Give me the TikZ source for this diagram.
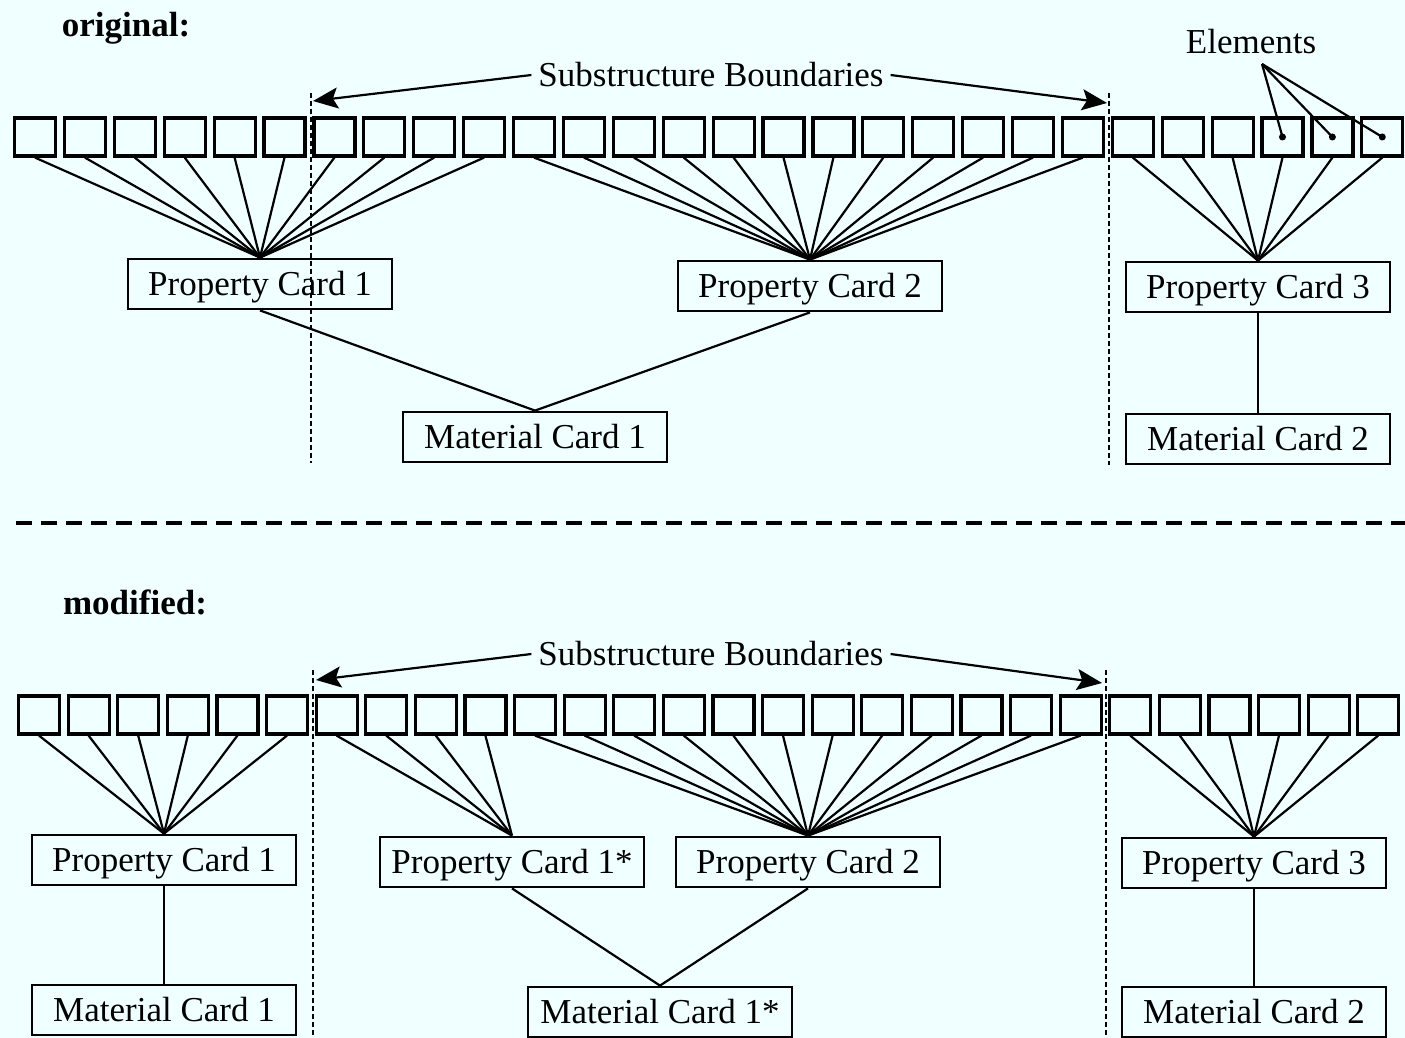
\documentclass[tikz,border=0pt]{standalone}
\usepackage{fontspec}
\setmainfont{Liberation Serif}
\usetikzlibrary{arrows.meta}
\definecolor{bgcol}{HTML}{F0FFFF}
\tikzset{
  elem/.style={draw, line width=1.6pt, minimum width=20.5pt, minimum height=19pt, inner sep=0pt},
  card/.style={draw, line width=1.4pt, minimum width=132pt, minimum height=25pt, inner sep=0pt,
    text height=11.6pt, text depth=0pt, font=\fontsize{17.5}{20}\selectfont},
  txt/.style={font=\fontsize{17.5}{20}\selectfont},
  link/.style={line width=1.1pt},
  bound/.style={line width=0.9pt, dash pattern=on 2.5pt off 1.5pt},
  pointer/.style={line width=1.1pt, -{Stealth[length=12.5pt,width=10.5pt,inset=2.5pt]}},
}

\begin{document}
\begin{tikzpicture}[x=0.5pt, y=-0.5pt]

  \fill[bgcol] (0,0) rectangle (1405,1038);
  \useasboundingbox (0,0) rectangle (1405,1038);

  % original
  \node[txt, font=\bfseries\fontsize{17.5}{20}\selectfont] (o) at (126, 28) {original:};
  \node[txt] (s) at (711, 75) {Substructure Boundaries};
  \node[txt] (e) at (1251, 42) {Elements};
  \coordinate (ep) at (1262, 64);
  \coordinate (l) at (313, 101);
  \coordinate (r) at (1107, 103);

  \foreach \i in {1,...,28}
    \node[elem] (t\i) at ({35+49.9*(\i-1)}, 137) {};

  \node[card] (p1) at (260, 284) {Property Card 1};
  \node[card] (p2) at (810, 286) {Property Card 2};
  \node[card] (p3) at (1258, 287) {Property Card 3};
  \node[card] (m1) at (535, 437) {Material Card 1};
  \node[card] (m2) at (1258, 439) {Material Card 2};

  \foreach \i in {1,...,10} \draw[link] (t\i.south) -- (p1.north);
  \foreach \i in {11,...,22} \draw[link] (t\i.south) -- (p2.north);
  \foreach \i in {23,...,28} \draw[link] (t\i.south) -- (p3.north);
  \draw[link] (p1.south) -- (m1.north);
  \draw[link] (p2.south) -- (m1.north);
  \draw[link] (p3.south) -- (m2.north);

  \foreach \i in {26,27,28} {
    \draw[link] (ep) -- (t\i.center);
    \fill (t\i.center) circle (3.5);
  }

  \draw[bound] (311, 93) -- (311, 463);
  \draw[bound] (1109, 93) -- (1109, 465);
  \draw[pointer] (s.west) -- (l);
  \draw[pointer] (s.east) -- (r);

  % separator
  \draw[line width=1.8pt, dash pattern=on 8pt off 4.5pt] (16, 523) -- (1405, 523);

  % modified
  \node[txt, font=\bfseries\fontsize{17.5}{20}\selectfont] (d) at (135, 602) {modified:};
  \node[txt] (u) at (711, 654) {Substructure Boundaries};
  \coordinate (k) at (316, 680);
  \coordinate (w) at (1102, 683);

  \foreach \i in {1,...,28}
    \node[elem] (b\i) at ({39+49.6*(\i-1)}, 715) {};

  \node[card] (q1) at (164, 860) {Property Card 1};
  \node[card] (qs) at (512, 862) {Property Card 1*};
  \node[card] (q2) at (808, 862) {Property Card 2};
  \node[card] (q3) at (1254, 863) {Property Card 3};
  \node[card] (n1) at (164, 1010) {Material Card 1};
  \node[card] (ns) at (660, 1012) {Material Card 1*};
  \node[card] (n2) at (1254, 1012) {Material Card 2};

  \foreach \i in {1,...,6} \draw[link] (b\i.south) -- (q1.north);
  \foreach \i in {7,...,10} \draw[link] (b\i.south) -- (qs.north);
  \foreach \i in {11,...,22} \draw[link] (b\i.south) -- (q2.north);
  \foreach \i in {23,...,28} \draw[link] (b\i.south) -- (q3.north);
  \draw[link] (q1.south) -- (n1.north);
  \draw[link] (qs.south) -- (ns.north);
  \draw[link] (q2.south) -- (ns.north);
  \draw[link] (q3.south) -- (n2.north);

  \draw[bound] (313, 670) -- (313, 1038);
  \draw[bound] (1106, 670) -- (1106, 1038);
  \draw[pointer] (u.west) -- (k);
  \draw[pointer] (u.east) -- (w);

\end{tikzpicture}
\end{document}
